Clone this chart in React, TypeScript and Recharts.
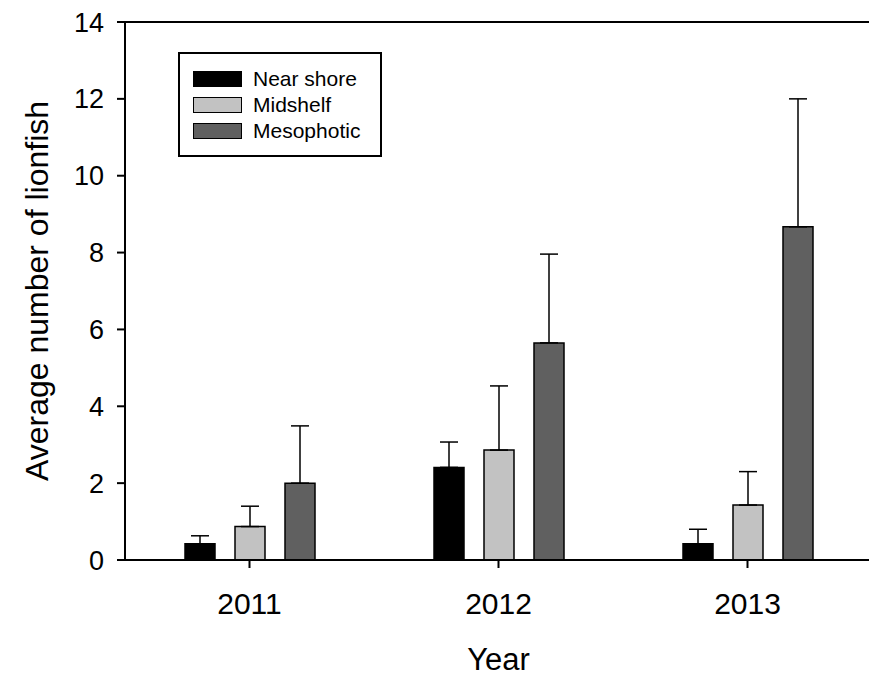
import React from 'react';
import { BarChart, Bar, XAxis, YAxis, ErrorBar, ReferenceLine } from 'recharts';

const years = ['2011', '2012', '2013'];
const seriesNames = ['Near shore', 'Midshelf', 'Mesophotic'];
const seriesColors = ['#000000', '#c2c2c2', '#606060'];

const nearShore = [0.42, 2.41, 0.42];
const nearShoreErr = [0.21, 0.66, 0.38];
const midshelf = [0.87, 2.86, 1.43];
const midshelfErr = [0.53, 1.67, 0.87];
const mesophotic = [2.0, 5.65, 8.67];
const mesophoticErr = [1.49, 2.31, 3.33];

const yTicks = [0, 2, 4, 6, 8, 10, 12, 14];

const data = years.map((y, i) => ({
  year: y,
  near: nearShore[i],
  nearErr: [0, nearShoreErr[i]],
  mid: midshelf[i],
  midErr: [0, midshelfErr[i]],
  meso: mesophotic[i],
  mesoErr: [0, mesophoticErr[i]],
}));

const keys = [
  ['near', 'nearErr'],
  ['mid', 'midErr'],
  ['meso', 'mesoErr'],
];

const font = '"Liberation Sans", Arial, sans-serif';

function LegendBox() {
  return (
    <div
      style={{
        position: 'absolute',
        left: 178,
        top: 52,
        width: 204,
        height: 105,
        border: '2px solid #000',
        boxSizing: 'border-box',
        background: '#fff',
        fontFamily: font,
      }}
    >
      {seriesNames.map((name, i) => (
        <div
          key={name}
          style={{ position: 'absolute', left: 13, top: 17 + i * 26, height: 16, display: 'flex', alignItems: 'center' }}
        >
          <div
            style={{
              width: 49,
              height: 16,
              background: seriesColors[i],
              border: '1.5px solid #000',
              boxSizing: 'border-box',
            }}
          />
          <span style={{ marginLeft: 11, fontSize: 21, color: '#000', lineHeight: '16px' }}>{name}</span>
        </div>
      ))}
    </div>
  );
}

export default function App() {
  return (
    <div style={{ position: 'absolute', left: 0, top: 0, width: 869, height: 677, overflow: 'hidden', background: '#fff' }}>
      <BarChart
        width={880}
        height={677}
        data={data}
        margin={{ top: 22, right: 8, bottom: 0, left: 0 }}
        barSize={30}
        barGap={20}
      >
        <XAxis
          dataKey="year"
          height={117}
          stroke="#000"
          strokeWidth={2}
          tickSize={8}
          tickMargin={25}
          tick={{ fill: '#000', fontSize: 30, fontFamily: font }}
          label={{ value: 'Year', position: 'insideBottom', offset: 7, fill: '#000', fontSize: 31, fontFamily: font }}
        />
        <YAxis
          width={125}
          domain={[0, 14]}
          ticks={yTicks}
          interval={0}
          stroke="#000"
          strokeWidth={2}
          tickSize={8}
          tickMargin={13}
          tick={{ fill: '#000', fontSize: 27, fontFamily: font }}
          label={{
            value: 'Average number of lionfish',
            angle: -90,
            position: 'insideLeft',
            offset: 37,
            style: { textAnchor: 'middle' },
            fill: '#000',
            fontSize: 32,
            fontFamily: font,
          }}
        />
        <ReferenceLine y={14} stroke="#000" strokeWidth={2} />
        {keys.map(([k, e], i) => (
          <Bar key={k} dataKey={k} fill={seriesColors[i]} stroke="#000" strokeWidth={1.5} isAnimationActive={false}>
            <ErrorBar dataKey={e} width={9} stroke="#000" strokeWidth={1.5} direction="y" />
          </Bar>
        ))}
      </BarChart>
      <LegendBox />
    </div>
  );
}
